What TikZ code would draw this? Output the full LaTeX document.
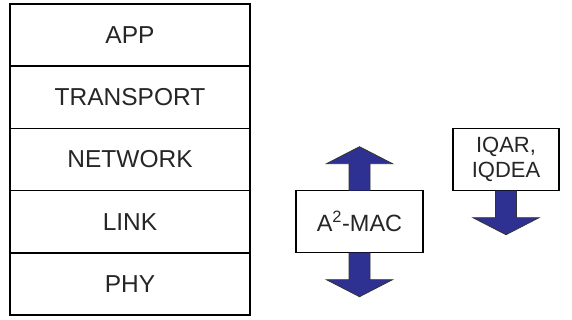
\documentclass[tikz,border=0pt]{standalone}
\usepackage{fontspec}
\setmainfont{Liberation Sans}
\usetikzlibrary{positioning}

\definecolor{arrowblue}{RGB}{46,49,146}

\tikzset{
  layer/.style={draw=black, line width=1.6pt, minimum width=240pt,
    minimum height=62.2pt, inner sep=0pt, outer sep=0pt, text=black!85,
    font=\fontsize{24.5}{27}\selectfont},
  blockbox/.style={draw=black, line width=1.5pt, minimum width=127pt,
    minimum height=62pt, inner sep=0pt, outer sep=0pt, fill=white, text=black!85,
    font=\fontsize{23.5}{26}\selectfont},
  % thick block arrow, its base sits on the box edge
  fatarrow/.pic={
    \fill[arrowblue] (-10.5,0) -- (-10.5,27) -- (-33,27) -- (0,44)
      -- (33,27) -- (10.5,27) -- (10.5,0) -- cycle;
    \draw[black!80, line width=0.8pt, line join=miter] (-10.5,0) -- (-10.5,27)
      -- (-33,27) -- (0,44) -- (33,27) -- (10.5,27) -- (10.5,0);
  }
}

\begin{document}
\begin{tikzpicture}[x=1pt, y=-1pt]
  \useasboundingbox (0,0) rectangle (572,320);
  % protocol stack
  \node[layer] at (130,35.1) (app) {APP};
  \node[layer, below=0pt of app] (transport) {TRANSPORT};
  \node[layer, below=0pt of transport] (network) {NETWORK};
  \node[layer, below=0pt of network] (link) {LINK};
  \node[layer, below=0pt of link] (phy) {PHY};
  % cross-layer blocks
  \node[blockbox, right=46pt of link] (mac) {A\textsuperscript{2}-MAC};
  \node[blockbox, minimum width=106pt, align=center,
    font=\fontsize{22}{25}\selectfont,
    above right=0pt and 30pt of mac.north east] (iq) {IQAR,\\IQDEA};
  % arrows
  \pic[rotate=180] at (mac.north) {fatarrow};
  \pic at (mac.south) {fatarrow};
  \pic at (iq.south) {fatarrow};
\end{tikzpicture}
\end{document}
